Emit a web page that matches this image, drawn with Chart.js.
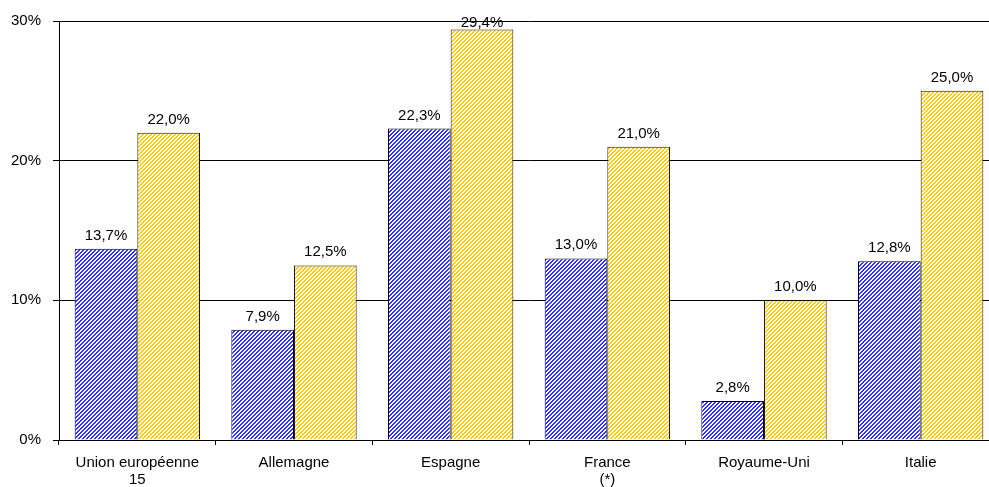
<!DOCTYPE html>
<html>
<head>
<meta charset="utf-8">
<script src="https://cdn.jsdelivr.net/npm/chart.js@4.4.1/dist/chart.umd.min.js"></script>
<style>
  html, body { margin: 0; padding: 0; background: #fff; overflow: hidden; width: 989px; height: 487px; }
  #wrap { width: 989px; height: 487px; overflow: hidden; position: relative; }
  #c { position: absolute; left: 0; top: 0; }
</style>
</head>
<body>
<div id="wrap"><canvas id="c" width="999" height="487"></canvas></div>
<script>
const categories = [["Union européenne", "15"], "Allemagne", "Espagne", ["France", "(*)"], "Royaume-Uni", "Italie"];
const seriesBlue = [13.7, 7.9, 22.3, 13.0, 2.8, 12.8];
const seriesYellow = [22.0, 12.5, 29.4, 21.0, 10.0, 25.0];
const yTicks = [0, 10, 20, 30];

function hatch(color) {
  const p = document.createElement('canvas');
  p.width = 4; p.height = 4;
  const g = p.getContext('2d');
  g.fillStyle = '#fff';
  g.fillRect(0, 0, 4, 4);
  g.fillStyle = color;
  for (let y = 0; y < 4; y++) {
    for (let x = 0; x < 4; x++) {
      if (((x + y) % 4) < 2) g.fillRect(x, y, 1, 1);
    }
  }
  return g.createPattern(p, 'repeat');
}

const FONT = "'Liberation Sans', Arial, sans-serif";

const labelPlugin = {
  id: 'valueLabels',
  afterDatasetsDraw(chart) {
    const ctx = chart.ctx;
    ctx.save();
    ctx.font = '15px ' + FONT;
    ctx.fillStyle = '#000';
    ctx.textAlign = 'center';
    ctx.textBaseline = 'alphabetic';
    chart.data.datasets.forEach((ds, i) => {
      const meta = chart.getDatasetMeta(i);
      meta.data.forEach((bar, j) => {
        const txt = ds.data[j].toFixed(1).replace('.', ',') + '%';
        const y = Math.max(bar.y - 9, chart.chartArea.top + 6);
        ctx.fillText(txt, bar.x, y);
      });
    });
    ctx.restore();
  }
};

new Chart(document.getElementById('c'), {
  type: 'bar',
  data: {
    labels: categories,
    datasets: [
      { data: seriesBlue, backgroundColor: hatch('#3030ff'), borderColor: '#000', borderWidth: 1, borderSkipped: 'bottom' },
      { data: seriesYellow, backgroundColor: hatch('#ffcc00'), borderColor: '#1a1a1a', borderWidth: 1, borderSkipped: 'bottom' }
    ]
  },
  options: {
    responsive: false,
    devicePixelRatio: 1,
    animation: false,
    layout: { padding: { top: 20, left: 0, right: 0, bottom: 0 } },
    plugins: { legend: { display: false }, tooltip: { enabled: false } },
    datasets: { bar: { barPercentage: 1.0, categoryPercentage: 0.8 } },
    scales: {
      x: {
        offset: true,
        grid: { offset: true, drawOnChartArea: false, drawTicks: true, tickLength: 5, color: '#000', lineWidth: 1 },
        border: { display: true, color: '#000', width: 1 },
        ticks: { color: '#000', font: { family: FONT, size: 15, lineHeight: 1.15 }, padding: 9, maxRotation: 0, autoSkip: false },
        afterFit(scale) { scale.height = 47; }
      },
      y: {
        min: 0, max: 30,
        afterBuildTicks(scale) { scale.ticks = yTicks.map(v => ({ value: v })); },
        grid: { color: '#000', lineWidth: 1, drawTicks: true, tickLength: 6 },
        border: { display: true, color: '#000', width: 1 },
        ticks: { color: '#000', font: { family: FONT, size: 15 }, padding: 12, callback: v => v + '%' },
        afterFit(scale) { scale.width = 59; }
      }
    }
  },
  plugins: [labelPlugin]
});
</script>
</body>
</html>
